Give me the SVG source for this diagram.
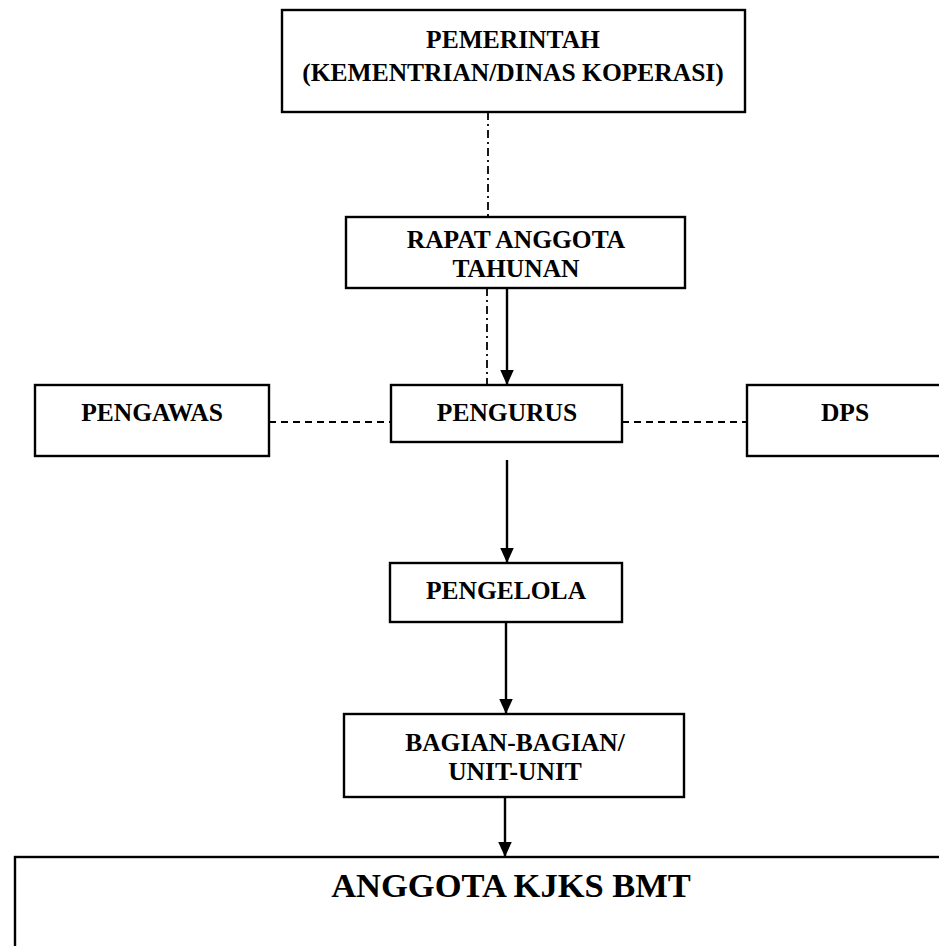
<svg xmlns="http://www.w3.org/2000/svg" width="939" height="946" viewBox="0 0 939 946">
<style>
.box{fill:#fff;stroke:#000;stroke-width:2.4}
.t{font-family:"Liberation Serif","Times New Roman",serif;font-weight:bold;font-size:25.5px;text-anchor:middle;fill:#000}
.big{font-size:34.5px}
.arrow{stroke:#000;stroke-width:2.4;fill:none}
.dd{stroke:#000;stroke-width:1.8;stroke-dasharray:8 4 2 4;fill:none}
.dash{stroke:#000;stroke-width:1.8;stroke-dasharray:7 5;fill:none}
</style>
<defs>
<marker id="ah" viewBox="0 0 10 10" refX="10" refY="5" markerWidth="15" markerHeight="15" markerUnits="userSpaceOnUse" orient="auto">
<path d="M0,0.5 L10,5 L0,9.5 z" fill="#000"/>
</marker>
</defs>
<rect width="939" height="946" fill="#fff"/>
<g id="connectors">
<line class="dd" x1="488" y1="112" x2="488" y2="217"/>
<line class="dd" x1="487" y1="288" x2="487" y2="385"/>
<line class="arrow" x1="507" y1="288" x2="507" y2="385" marker-end="url(#ah)"/>
<line class="dash" x1="269" y1="422" x2="391" y2="422"/>
<line class="dash" x1="622" y1="422" x2="747" y2="422"/>
<line class="arrow" x1="507" y1="460" x2="507" y2="563" marker-end="url(#ah)"/>
<line class="arrow" x1="506" y1="622" x2="506" y2="714" marker-end="url(#ah)"/>
<line class="arrow" x1="505" y1="797" x2="505" y2="857" marker-end="url(#ah)"/>
</g>
<g id="pemerintah">
<rect class="box" x="282" y="10" width="463" height="102"/>
<text class="t" x="513" y="48">PEMERINTAH</text>
<text class="t" x="513" y="81">(KEMENTRIAN/DINAS KOPERASI)</text>
</g>
<g id="rapat">
<rect class="box" x="346" y="217" width="339" height="71"/>
<text class="t" x="516" y="248">RAPAT ANGGOTA</text>
<text class="t" x="516" y="277">TAHUNAN</text>
</g>
<g id="pengawas">
<rect class="box" x="35" y="385" width="234" height="71"/>
<text class="t" x="152" y="421">PENGAWAS</text>
</g>
<g id="pengurus">
<rect class="box" x="391" y="385" width="231" height="57"/>
<text class="t" x="507" y="421">PENGURUS</text>
</g>
<g id="dps">
<rect class="box" x="747" y="385" width="200" height="71"/>
<text class="t" x="845" y="421">DPS</text>
</g>
<g id="pengelola">
<rect class="box" x="390" y="563" width="232" height="59"/>
<text class="t" x="506" y="599">PENGELOLA</text>
</g>
<g id="bagian">
<rect class="box" x="344" y="714" width="340" height="83"/>
<text class="t" x="515" y="751">BAGIAN-BAGIAN/</text>
<text class="t" x="515" y="780">UNIT-UNIT</text>
</g>
<g id="anggota">
<rect class="box" x="15" y="857" width="940" height="100"/>
<text class="t big" x="511" y="897">ANGGOTA KJKS BMT</text>
</g>
</svg>
